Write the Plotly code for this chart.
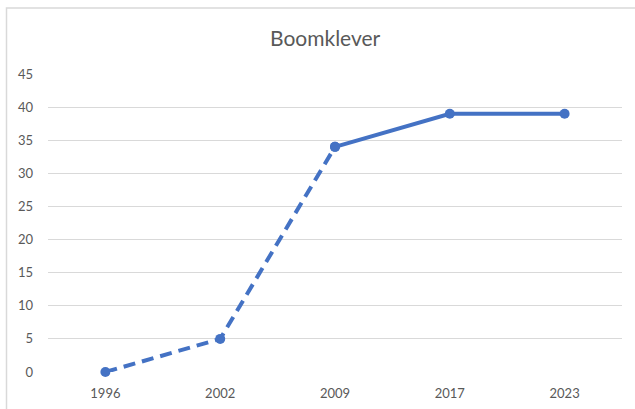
import plotly.graph_objects as go

YEARS = ['1996', '2002', '2009', '2017', '2023']
COUNTS = [0, 5, 34, 39, 39]

TITLE = 'Boomklever'
BLUE = '#4472C4'
GREY_TEXT = '#595959'
GRID = '#D9D9D9'

W, H = 635, 409
L, R, T, B = 48, 13, 74, 37

fig = go.Figure()

# dashed part (estimated / older counts) up to 2009
fig.add_trace(go.Scatter(
	x=YEARS[:3], y=COUNTS[:3], mode='lines+markers',
	line=dict(color=BLUE, width=4, dash='12px,7px'),
	marker=dict(color=BLUE, size=10), cliponaxis=False,
	showlegend=False, hoverinfo='x+y'
))
# solid part from 2009 on
fig.add_trace(go.Scatter(
	x=YEARS[2:], y=COUNTS[2:], mode='lines+markers',
	line=dict(color=BLUE, width=4),
	marker=dict(color=BLUE, size=10), cliponaxis=False,
	showlegend=False, hoverinfo='x+y'
))

pw = W - L - R
ph = H - T - B
fig.add_shape(
	type='rect', xref='paper', yref='paper',
	x0=(6.5 - L) / pw, x1=1.2, y0=-0.3, y1=1 + (T - 8) / ph,
	line=dict(color=GRID, width=1.5), fillcolor='rgba(0,0,0,0)', layer='below'
)

fig.update_layout(
	width=W, height=H,
	margin=dict(l=L, r=R, t=T, b=B),
	paper_bgcolor='white', plot_bgcolor='white',
	font=dict(family='Lato', color=GREY_TEXT, size=13),
	title=dict(text=TITLE, x=0.512, xanchor='center', y=0.905, yanchor='middle',
		font=dict(size=21, color=GREY_TEXT)),
)
fig.update_xaxes(
	type='category', range=[-0.5, 4.5], showgrid=False, zeroline=False,
	showline=False, ticks='', ticklabelstandoff=12, automargin=False
)
fig.update_yaxes(
	range=[0, 45], dtick=5, showgrid=True, gridcolor=GRID, gridwidth=1,
	zeroline=False, showline=False, ticks='', ticklabelstandoff=14, automargin=False
)

# page body has a default 8px margin; drop it so the figure sits at 0,0
fig.write_html('out.html', config={'displayModeBar': False},
	post_script="document.body.style.margin='0';")
